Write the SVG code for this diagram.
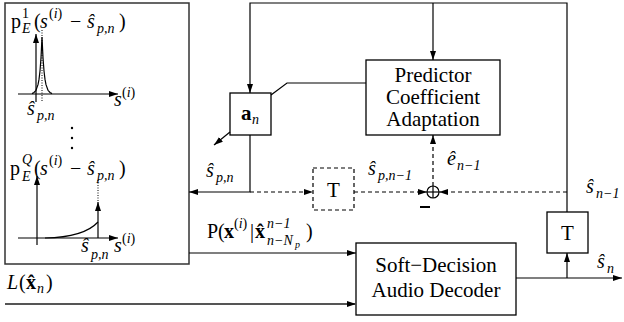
<svg xmlns="http://www.w3.org/2000/svg" width="624" height="322" viewBox="0 0 624 322">
<style>
.ln{fill:none;stroke:#000;stroke-width:1.2}
.da{fill:none;stroke:#000;stroke-width:1.2;stroke-dasharray:4,3}
.bx{fill:#fff;stroke:#000;stroke-width:1.3}
.dbx{fill:#fff;stroke:#000;stroke-width:1.2;stroke-dasharray:4,3}
.dot{fill:none;stroke:#000;stroke-width:1;stroke-dasharray:1,1.5}
text{font-family:Liberation Serif, Times New Roman, Times, serif;fill:#000}
.t{font-size:21px}
.m{font-size:20px}
.i{font-style:italic}
.s{font-size:14px}
.b{font-weight:bold}
</style>
<defs>
<marker id="ah" viewBox="0 0 9 6" refX="9" refY="3" markerWidth="9" markerHeight="6" markerUnits="userSpaceOnUse" orient="auto"><path d="M0,0 L9,3 L0,6 z" fill="#000"/></marker>
</defs>

<g id="pdf-box">
<rect x="5" y="3" width="184" height="261" fill="#fff" stroke="#333" stroke-width="1.5"/>
<text class="m" y="28"><tspan x="11">p</tspan><tspan class="s" x="22" y="18">1</tspan><tspan class="s i" x="22" y="33">E</tspan><tspan x="34" y="28">(</tspan><tspan class="i" x="40">s</tspan><tspan class="s" x="49" y="18">(<tspan class="i">i</tspan>)</tspan><tspan x="70" y="28">−</tspan><tspan class="i" x="87">ŝ</tspan><tspan class="s i" x="97" y="33">p,n</tspan><tspan x="119" y="28">)</tspan></text>
<line class="ln" x1="36" y1="102" x2="36" y2="34" marker-end="url(#ah)"/>
<line class="ln" x1="18" y1="94" x2="118" y2="94" marker-end="url(#ah)"/>
<path class="ln" d="M32,93.6 L34,92.5 L36,90.3 L38,84.7 L39,79.4 L40,71 L41,57.8 L42,37 L43,57.8 L44,71 L45,79.4 L46,84.7 L48,90.3 L50,92.5 L52,93.6"/>
<line class="dot" x1="42" y1="30" x2="42" y2="102"/>
<text class="m" y="115"><tspan class="i" x="27">ŝ</tspan><tspan class="s i" x="37" y="120">p,n</tspan></text>
<text class="m" y="106"><tspan class="i" x="114">s</tspan><tspan class="s" x="122" y="97">(<tspan class="i">i</tspan>)</tspan></text>
<circle cx="72" cy="128" r="1.2"/>
<circle cx="72" cy="138" r="1.2"/>
<circle cx="72" cy="148" r="1.2"/>
<text class="m" y="175"><tspan x="10">p</tspan><tspan class="s i" x="22" y="164">Q</tspan><tspan class="s i" x="22" y="181">E</tspan><tspan x="34" y="175">(</tspan><tspan class="i" x="40">s</tspan><tspan class="s" x="49" y="165">(<tspan class="i">i</tspan>)</tspan><tspan x="70" y="175">−</tspan><tspan class="i" x="87">ŝ</tspan><tspan class="s i" x="97" y="180">p,n</tspan><tspan x="119" y="175">)</tspan></text>
<line class="ln" x1="37" y1="245" x2="37" y2="176" marker-end="url(#ah)"/>
<line class="ln" x1="18" y1="238" x2="118" y2="238" marker-end="url(#ah)"/>
<path class="ln" d="M45,238 C70,237.5 88,233 98,222"/>
<line class="ln" x1="98" y1="238" x2="98" y2="202" marker-end="url(#ah)"/>
<line class="dot" x1="98" y1="180" x2="98" y2="202"/>
<text class="m" y="252"><tspan class="i" x="81">ŝ</tspan><tspan class="s i" x="91" y="259">p,n</tspan></text>
<text class="m" y="252"><tspan class="i" x="114">s</tspan><tspan class="s" x="122" y="243">(<tspan class="i">i</tspan>)</tspan></text>
</g>

<g id="an">
<rect class="bx" x="230" y="93" width="41" height="42"/>
<text class="t" y="120"><tspan class="b" x="241">a</tspan><tspan class="s i" x="252" y="124">n</tspan></text>
</g>

<g id="predictor">
<rect class="bx" x="366" y="60" width="134" height="75"/>
<text class="t" text-anchor="middle" x="433" y="82">Predictor</text>
<text class="t" text-anchor="middle" x="433" y="104">Coefficient</text>
<text class="t" text-anchor="middle" x="433" y="126">Adaptation</text>
</g>

<g id="delay1">
<rect class="dbx" x="313" y="168" width="41" height="42"/>
<text class="t" text-anchor="middle" x="333.5" y="197">T</text>
</g>

<g id="sum">
<circle cx="433" cy="192" r="6" fill="#fff" stroke="#000" stroke-width="1.2"/>
<line class="ln" x1="427" y1="192" x2="439" y2="192"/>
<line class="ln" x1="433" y1="186" x2="433" y2="198"/>
<line x1="420" y1="207" x2="430" y2="207" stroke="#000" stroke-width="2"/>
</g>

<g id="delay2">
<rect class="bx" x="547" y="212" width="41" height="41"/>
<text class="t" text-anchor="middle" x="567.5" y="240">T</text>
</g>

<g id="decoder">
<rect class="bx" x="356" y="243" width="160" height="72"/>
<text class="t" text-anchor="middle" x="436" y="272">Soft−Decision</text>
<text class="t" text-anchor="middle" x="436" y="297">Audio Decoder</text>
</g>

<g id="connectors">
<polyline class="ln" points="567,212 567,3 250,3 250,93" marker-end="url(#ah)"/>
<line class="ln" x1="433" y1="3" x2="433" y2="60" marker-end="url(#ah)"/>
<polyline class="ln" points="271,95 287,83 366,83"/>
<line class="ln" x1="230" y1="132" x2="214" y2="145" marker-end="url(#ah)"/>
<polyline class="ln" points="250,135 250,192 189,192" marker-end="url(#ah)"/>
<line class="da" x1="250" y1="192" x2="313" y2="192" marker-end="url(#ah)"/>
<line class="da" x1="354" y1="192" x2="427" y2="192" marker-end="url(#ah)"/>
<line class="da" x1="567" y1="192" x2="439" y2="192" marker-end="url(#ah)"/>
<line class="da" x1="433" y1="186" x2="433" y2="135" marker-end="url(#ah)"/>
<line class="ln" x1="189" y1="253" x2="356" y2="253" marker-end="url(#ah)"/>
<line x1="5" y1="304" x2="356" y2="304" stroke="#555" stroke-width="1.8" marker-end="url(#ah)"/>
<line class="ln" x1="516" y1="278" x2="622" y2="278" marker-end="url(#ah)"/>
<line class="ln" x1="567" y1="278" x2="567" y2="253" marker-end="url(#ah)"/>
</g>

<g id="labels">
<text class="m" y="177"><tspan class="i" x="206">ŝ</tspan><tspan class="s i" x="216" y="182">p,n</tspan></text>
<text class="m" y="175"><tspan class="i" x="368">ŝ</tspan><tspan class="s i" x="378" y="180">p,n−1</tspan></text>
<text class="m" y="165"><tspan class="i" x="447">ê</tspan><tspan class="s i" x="457" y="170">n−1</tspan></text>
<text class="m" y="193"><tspan class="i" x="586">ŝ</tspan><tspan class="s i" x="596" y="198">n−1</tspan></text>
<text class="m" y="268"><tspan class="i" x="597">ŝ</tspan><tspan class="s i" x="607" y="273">n</tspan></text>
<text class="m" y="238"><tspan x="207">P(</tspan><tspan class="b" x="224">x</tspan><tspan class="s" x="234" y="228">(<tspan class="i">i</tspan>)</tspan><tspan x="250" y="238">|</tspan><tspan class="b" x="255">x̂</tspan><tspan class="s i" x="267" y="228">n−1</tspan><tspan class="s i" x="267" y="245">n−N</tspan><tspan class="i" font-size="10" x="295" y="248">p</tspan><tspan x="306" y="238">)</tspan></text>
<text class="m" y="289"><tspan class="i" x="7">L</tspan><tspan x="19">(</tspan><tspan class="b" x="26">x̂</tspan><tspan class="s i" x="37" y="293">n</tspan><tspan x="46" y="289">)</tspan></text>
</g>
</svg>
